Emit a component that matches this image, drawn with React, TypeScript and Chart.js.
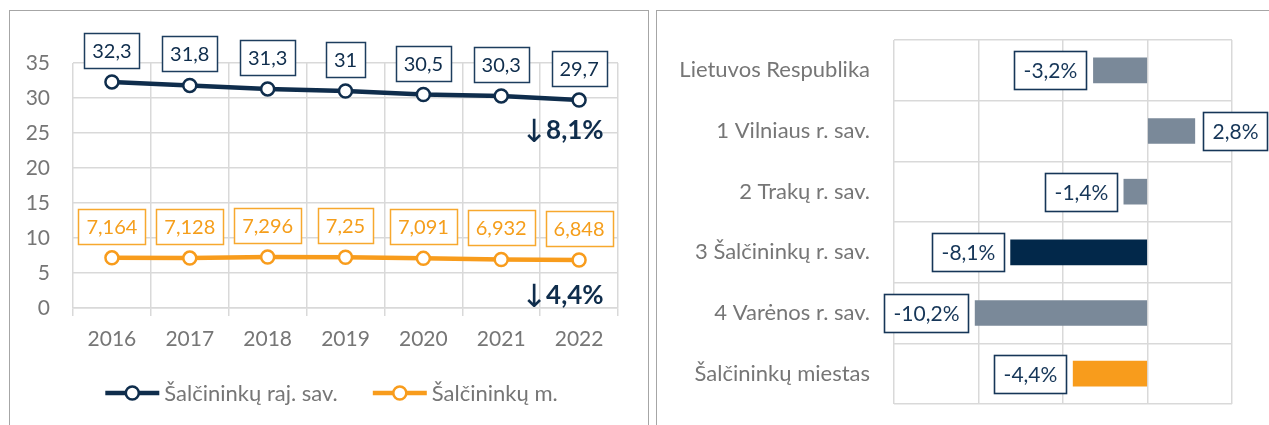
import React, { useEffect, useRef } from 'react';
import { Chart, registerables } from 'chart.js';

Chart.register(...registerables);

// ---- data ----
const YEARS = ['2016', '2017', '2018', '2019', '2020', '2021', '2022'];
const RAJ_SAV = [32.3, 31.8, 31.3, 31, 30.5, 30.3, 29.7];
const MIESTAS = [7.164, 7.128, 7.296, 7.25, 7.091, 6.932, 6.848];
const SERIES_NAMES = ['Šalčininkų raj. sav.', 'Šalčininkų m.'];
const CHANGE_TEXT = ['8,1%', '4,4%'];
const Y_MIN = 0;
const Y_MAX = 35;
const Y_STEP = 5;

const REGIONS = [
  'Lietuvos Respublika',
  '1 Vilniaus r. sav.',
  '2 Trakų r. sav.',
  '3 Šalčininkų r. sav.',
  '4 Varėnos r. sav.',
  'Šalčininkų miestas',
];
const CHANGES = [-3.2, 2.8, -1.4, -8.1, -10.2, -4.4];
const X_MIN = -15;
const X_MAX = 5;

// ---- style ----
const FONT = 'Lato, "Open Sans", sans-serif';
const NAVY = '#0f2d4c';
const NAVY_BAR = '#02284a';
const ORANGE = '#f89c1c';
const ORANGE_TXT = '#f59e1b';
const GRAY_BAR = '#7a8999';
const GRID = '#d9d9d9';
const AXIS_TXT = '#767676';

const fmtNum = (v: number) => String(v).replace('.', ',');
const fmtPct = (v: number) => v.toFixed(1).replace('.', ',') + '%';

const lineLabels = {
  id: 'lineLabels',
  afterDatasetsDraw(chart: any) {
    const ctx = chart.ctx;
    ctx.save();
    ctx.font = `20px ${FONT}`;
    ctx.textAlign = 'center';
    ctx.textBaseline = 'middle';
    chart.data.datasets.forEach((ds: any, di: number) => {
      const meta = chart.getDatasetMeta(di);
      meta.data.forEach((pt: any, i: number) => {
        const txt = fmtNum(ds.data[i]);
        const w = Math.round(ctx.measureText(txt).width + 16);
        const h = 35;
        const x = Math.round(pt.x - w / 2) + 0.5;
        const y = Math.round(pt.y - 14 - h) + 0.5;
        ctx.fillStyle = '#fff';
        ctx.fillRect(x, y, w, h);
        ctx.lineWidth = 1.5;
        ctx.strokeStyle = di === 0 ? '#1d3d5e' : '#f7a82e';
        ctx.strokeRect(x, y, w, h);
        ctx.fillStyle = di === 0 ? NAVY : ORANGE_TXT;
        ctx.fillText(txt, pt.x, y + h / 2 + 1);
      });
    });
    ctx.restore();
  },
};

const changeNotes = {
  id: 'changeNotes',
  afterDatasetsDraw(chart: any) {
    const ctx = chart.ctx;
    ctx.save();
    const offsets = [31, 36];
    chart.data.datasets.forEach((ds: any, di: number) => {
      const meta = chart.getDatasetMeta(di);
      const last = meta.data[meta.data.length - 1];
      const cy = last.y + offsets[di];
      ctx.fillStyle = NAVY;
      ctx.textBaseline = 'middle';
      ctx.textAlign = 'center';
      ctx.font = `32px "DejaVu Sans", sans-serif`;
      ctx.fillText('↓', last.x - 45, cy + 3);
      ctx.textAlign = 'left';
      ctx.font = `bold 26px ${FONT}`;
      ctx.fillText(CHANGE_TEXT[di], last.x - 33, cy);
    });
    ctx.restore();
  },
};

const lineLegend = {
  id: 'lineLegend',
  afterDraw(chart: any) {
    const ctx = chart.ctx;
    ctx.save();
    ctx.font = `22px ${FONT}`;
    ctx.textBaseline = 'middle';
    ctx.textAlign = 'left';
    const lineW = 54;
    const gapText = 5;
    const gapItems = 35;
    const widths = chart.data.datasets.map((ds: any) => ctx.measureText(ds.label).width);
    const total = widths.reduce((a: number, w: number) => a + lineW + gapText + w, 0) + gapItems * (widths.length - 1);
    let x = chart.width / 2 + 3 - total / 2;
    const y = 382;
    chart.data.datasets.forEach((ds: any, i: number) => {
      ctx.strokeStyle = ds.borderColor;
      ctx.lineWidth = 4.5;
      ctx.beginPath();
      ctx.moveTo(x, y);
      ctx.lineTo(x + lineW, y);
      ctx.stroke();
      ctx.beginPath();
      ctx.arc(x + lineW / 2, y, 6.5, 0, Math.PI * 2);
      ctx.fillStyle = '#fff';
      ctx.fill();
      ctx.lineWidth = 2.5;
      ctx.stroke();
      ctx.fillStyle = AXIS_TXT;
      ctx.fillText(ds.label, x + lineW + gapText, y + 1);
      x += lineW + gapText + widths[i] + gapItems;
    });
    ctx.restore();
  },
};

const barLabels = {
  id: 'barLabels',
  afterDatasetsDraw(chart: any) {
    const ctx = chart.ctx;
    ctx.save();
    ctx.font = `21px ${FONT}`;
    ctx.textAlign = 'center';
    ctx.textBaseline = 'middle';
    const meta = chart.getDatasetMeta(0);
    const data = chart.data.datasets[0].data;
    meta.data.forEach((bar: any, i: number) => {
      const v = data[i];
      const txt = fmtPct(v);
      const w = Math.round(ctx.measureText(txt).width + 18);
      const h = 38;
      const x = Math.round(v < 0 ? bar.x - 7 - w : bar.x + 8) + 0.5;
      const y = Math.round(bar.y - h / 2) + 0.5;
      ctx.fillStyle = '#fff';
      ctx.fillRect(x, y, w, h);
      ctx.lineWidth = 1.6;
      ctx.strokeStyle = '#163658';
      ctx.strokeRect(x, y, w, h);
      ctx.fillStyle = '#163658';
      ctx.fillText(txt, x + w / 2, y + h / 2 + 1);
    });
    ctx.restore();
  },
};

const barColor = (c: any) => {
  const label = REGIONS[c.dataIndex];
  if (label === '3 Šalčininkų r. sav.') return NAVY_BAR;
  if (label === 'Šalčininkų miestas') return ORANGE;
  return GRAY_BAR;
};

export default function App() {
  const leftRef = useRef<HTMLCanvasElement>(null);
  const rightRef = useRef<HTMLCanvasElement>(null);

  useEffect(() => {
    const axisFont = { family: FONT, size: 21 };
    const c1 = new Chart(leftRef.current!, {
      type: 'line',
      data: {
        labels: YEARS,
        datasets: [
          {
            label: SERIES_NAMES[0],
            data: RAJ_SAV,
            borderColor: NAVY,
            borderWidth: 4.5,
            pointRadius: 6.5,
            pointBackgroundColor: '#fff',
            pointBorderColor: NAVY,
            pointBorderWidth: 2.5,
            tension: 0,
          },
          {
            label: SERIES_NAMES[1],
            data: MIESTAS,
            borderColor: ORANGE,
            borderWidth: 4.5,
            pointRadius: 6.5,
            pointBackgroundColor: '#fff',
            pointBorderColor: ORANGE,
            pointBorderWidth: 2.5,
            tension: 0,
          },
        ],
      },
      options: {
        responsive: false,
        animation: false,
        layout: { padding: { left: 0, right: 29, top: 52, bottom: 77 } },
        plugins: { legend: { display: false }, tooltip: { enabled: false } },
        scales: {
          x: {
            offset: true,
            grid: { offset: true, color: GRID, lineWidth: 1.5, tickLength: 8 },
            border: { color: GRID, width: 1.5 },
            ticks: { padding: 11, color: AXIS_TXT, font: axisFont },
            afterFit: (s: any) => { s.height = 40; },
          },
          y: {
            min: Y_MIN,
            max: Y_MAX,
            ticks: { stepSize: Y_STEP, padding: 23, color: AXIS_TXT, font: axisFont },
            grid: { color: GRID, lineWidth: 1.5, drawTicks: false },
            border: { display: false },
            afterFit: (s: any) => { s.width = 63; },
          },
        },
      },
      plugins: [lineLabels, changeNotes, lineLegend],
    } as any);

    const c2 = new Chart(rightRef.current!, {
      type: 'bar',
      data: {
        labels: REGIONS,
        datasets: [{ data: CHANGES, backgroundColor: barColor, barThickness: 25 }],
      },
      options: {
        indexAxis: 'y',
        responsive: false,
        animation: false,
        layout: { padding: { left: 0, right: 37, top: 29, bottom: 21 } },
        plugins: { legend: { display: false }, tooltip: { enabled: false } },
        scales: {
          x: {
            min: X_MIN,
            max: X_MAX,
            ticks: { display: false, stepSize: 5 },
            grid: { color: GRID, lineWidth: 1.5, drawTicks: false },
            border: { display: false },
            afterFit: (s: any) => { s.height = 0; s.paddingLeft = 0; s.paddingRight = 0; },
          },
          y: {
            ticks: { padding: 24, color: AXIS_TXT, font: { family: FONT, size: 22 } },
            grid: { color: GRID, lineWidth: 1.5, drawTicks: false, offset: true },
            border: { display: false },
            afterFit: (s: any) => { s.width = 237; s.paddingTop = 0; s.paddingBottom = 0; },
          },
        },
      },
      plugins: [barLabels],
    } as any);

    return () => {
      c1.destroy();
      c2.destroy();
    };
  }, []);

  return (
    <div style={{ position: 'absolute', left: 0, top: 0, width: 1269, height: 425, overflow: 'hidden', background: '#fff' }}>
      <div style={{ position: 'absolute', left: 9, top: 10, width: 638, height: 440, border: '1px solid #a6a6a6' }} />
      <div style={{ position: 'absolute', left: 656, top: 10, width: 700, height: 440, border: '1px solid #a6a6a6' }} />
      <canvas ref={leftRef} width={637} height={414} style={{ position: 'absolute', left: 10, top: 11, width: 637, height: 414 }} />
      <canvas ref={rightRef} width={612} height={414} style={{ position: 'absolute', left: 657, top: 11, width: 612, height: 414 }} />
    </div>
  );
}
